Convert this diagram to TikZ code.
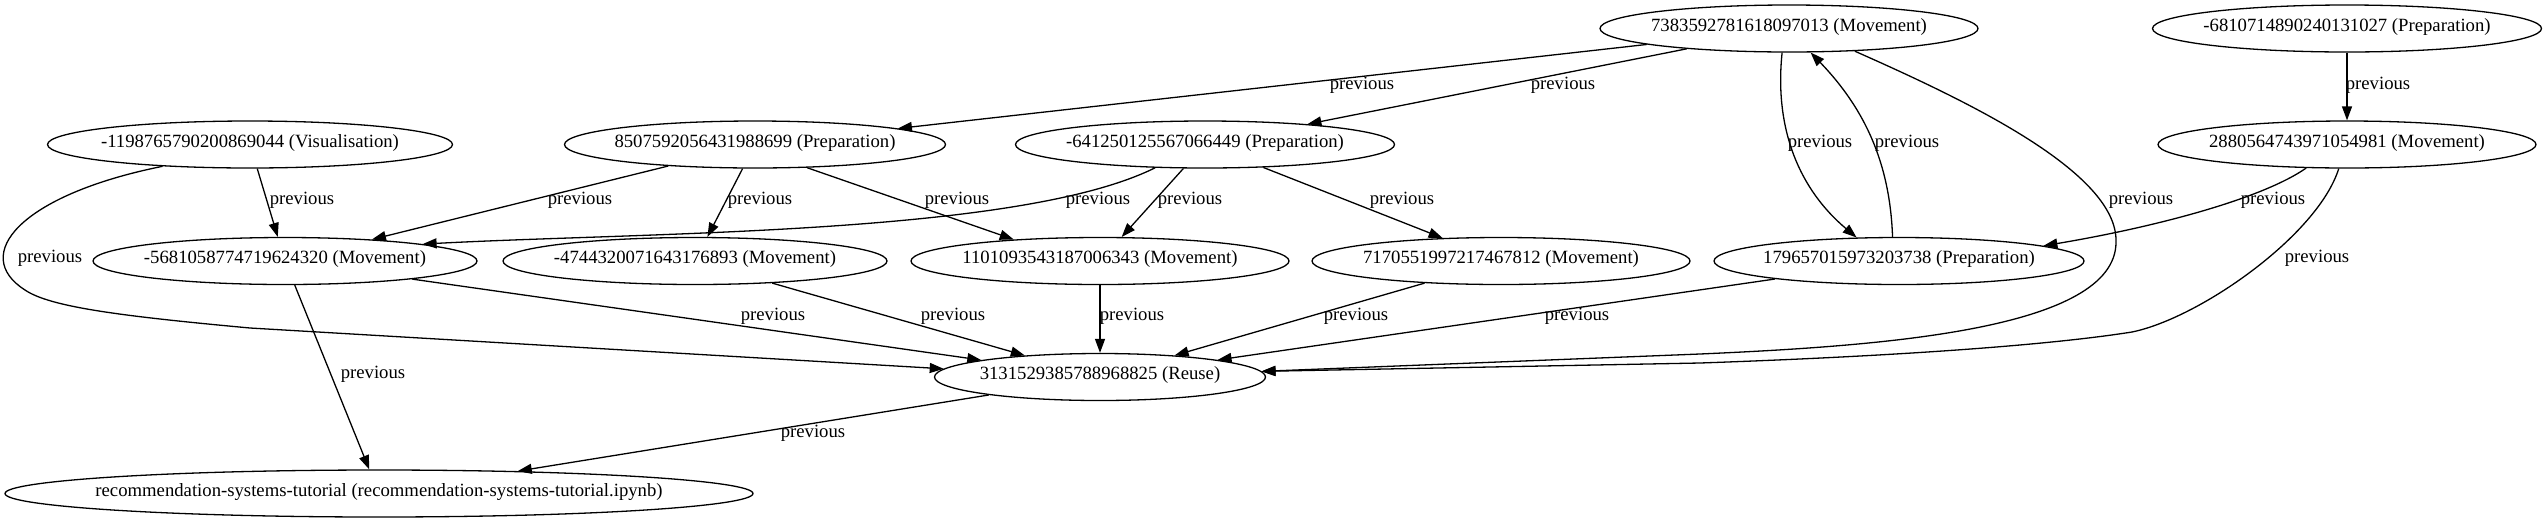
\documentclass[tikz,border=0pt]{standalone}
\usepackage{fontspec}
\setmainfont{Liberation Serif}
\usetikzlibrary{shapes.geometric,arrows.meta}
\tikzset{
  ell/.style={ellipse, draw, line width=1.3pt, inner sep=0pt, minimum height=47pt, text height=0.7em, text depth=0.2em},
  edge/.style={line width=1.3pt, -{Triangle[length=14pt,width=10pt]}},
  lbl/.style={inner sep=0pt, text height=0.7em, text depth=0.2em}
}
\newcommand{\nb}[1]{\makebox[0pt]{#1}}
\begin{document}
\begin{tikzpicture}[x=1pt,y=-1pt,font=\fontsize{18.7}{22}\selectfont]
\useasboundingbox (0,0) rectangle (2547,523);
% nodes
\node[ell,minimum width=378pt] (A7383) at (1789,28.5) {\nb{7383592781618097013 (Movement)}};
\node[ell,minimum width=389pt] (A6810) at (2347,28.5) {\nb{-6810714890240131027 (Preparation)}};
\node[ell,minimum width=405pt] (B1198) at (250,144.5) {\nb{-1198765790200869044 (Visualisation)}};
\node[ell,minimum width=381pt] (B8507) at (755,144.5) {\nb{8507592056431988699 (Preparation)}};
\node[ell,minimum width=379pt] (B6412) at (1205,144.5) {\nb{-641250125567066449 (Preparation)}};
\node[ell,minimum width=378pt] (B2880) at (2347,144.5) {\nb{2880564743971054981 (Movement)}};
\node[ell,minimum width=384pt] (C5681) at (285,261) {\nb{-5681058774719624320 (Movement)}};
\node[ell,minimum width=384pt] (C4744) at (695,261) {\nb{-4744320071643176893 (Movement)}};
\node[ell,minimum width=378pt] (C1101) at (1100,261) {\nb{1101093543187006343 (Movement)}};
\node[ell,minimum width=378pt] (C7170) at (1501,261) {\nb{7170551997217467812 (Movement)}};
\node[ell,minimum width=370pt] (C1796) at (1899,261) {\nb{179657015973203738 (Preparation)}};
\node[ell,minimum width=331pt] (D3131) at (1100,377) {\nb{3131529385788968825 (Reuse)}};
\node[ell,minimum width=748pt] (Erec) at (379,493.5) {\nb{recommendation-systems-tutorial (recommendation-systems-tutorial.ipynb)}};
% edges
\draw[edge] (A7383) -- (B8507);
\draw[edge] (A7383) -- (B6412);
\draw[edge] (A7383.-106) .. controls (1774,130) and (1800,190) .. (C1796.151);
\draw[edge] (C1796.105) .. controls (1890,165) and (1866,110) .. (A7383.-48);
\draw[edge] (A7383.-19) .. controls (1965,100) and (2118,172) .. (2116,242) .. controls (2116,330) and (1880,346) .. (1700,354) -- (D3131.2);
\draw[edge] (A6810) -- (B2880);
\draw[edge] (B2880.-150) .. controls (2260,200) and (2150,228) .. (C1796.6);
\draw[edge] (B2880.-109) .. controls (2318,235) and (2200,318) .. (2132,332) .. controls (2050,345) and (1900,356) .. (1700,363) -- (D3131.2);
\draw[edge] (B1198.-166) .. controls (20,195) and (-30,255) .. (25,290) .. controls (50,307) and (120,316) .. (250,328) -- (D3131.177);
\draw[edge] (B1198) -- (C5681);
\draw[edge] (B8507) -- (C5681);
\draw[edge] (B8507) -- (C4744);
\draw[edge] (B8507.-24) -- (C1101.166);
\draw[edge] (B6412.-155) .. controls (1020,235) and (650,232) .. (C5681.7);
\draw[edge] (B6412) -- (C1101);
\draw[edge] (B6412) -- (C7170);
\draw[edge] (C5681) -- (D3131);
\draw[edge] (C5681) -- (Erec);
\draw[edge] (C4744) -- (D3131);
\draw[edge] (C1101) -- (D3131);
\draw[edge] (C7170) -- (D3131);
\draw[edge] (C1796) -- (D3131);
\draw[edge] (D3131) -- (Erec);
% labels
\node[lbl] (l1) at (1362,87) {previous};
\node[lbl] (l2) at (1563,87) {previous};
\node[lbl] (l3) at (1820,145) {previous};
\node[lbl] (l4) at (1907,145) {previous};
\node[lbl] (l5) at (2141,202) {previous};
\node[lbl] (l6) at (2378,87) {previous};
\node[lbl] (l7) at (2273,202) {previous};
\node[lbl] (l8) at (2317,260) {previous};
\node[lbl] (l9) at (302,202) {previous};
\node[lbl] (l10) at (50,260) {previous};
\node[lbl] (l11) at (580,202) {previous};
\node[lbl] (l12) at (760,202) {previous};
\node[lbl] (l13) at (957,202) {previous};
\node[lbl] (l14) at (1098,202) {previous};
\node[lbl] (l15) at (1190,202) {previous};
\node[lbl] (l16) at (1402,202) {previous};
\node[lbl] (l17) at (773,318) {previous};
\node[lbl] (l18) at (373,376) {previous};
\node[lbl] (l19) at (953,318) {previous};
\node[lbl] (l20) at (1132,318) {previous};
\node[lbl] (l21) at (1356,318) {previous};
\node[lbl] (l22) at (1577,318) {previous};
\node[lbl] (l23) at (813,435) {previous};
\end{tikzpicture}
\end{document}
